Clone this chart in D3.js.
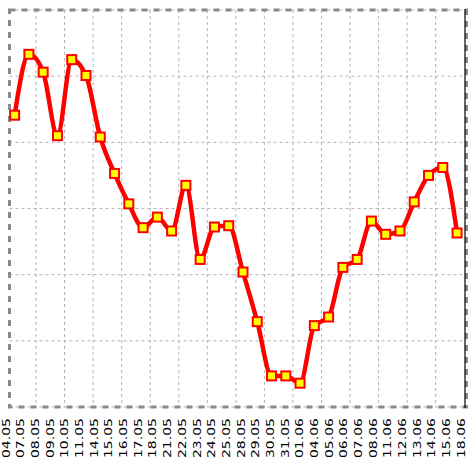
<!DOCTYPE html>
<html>
<head>
<meta charset="utf-8">
<script src="https://cdn.jsdelivr.net/npm/d3@7"></script>
<style>
  html, body { margin: 0; padding: 0; background: #fff; }
  svg { display: block; }
</style>
</head>
<body>
<script>
const categories = ["04.05","07.05","08.05","09.05","10.05","11.05","14.05","15.05","16.05","17.05","18.05","21.05","22.05","23.05","24.05","25.05","28.05","29.05","30.05","31.05","01.06","04.06","05.06","06.06","07.06","08.06","11.06","12.06","13.06","14.06","15.06","18.06"];
const values = [4.41,5.33,5.06,4.10,5.25,5.01,4.08,3.53,3.07,2.71,2.87,2.66,3.35,2.23,2.72,2.74,2.04,1.29,0.47,0.47,0.36,1.23,1.36,2.11,2.23,2.81,2.61,2.66,3.10,3.50,3.62,2.63];
const yTicks = [0,1,2,3,4,5,6];

(function () {
const W = 468, H = 462;
const svg = d3.select("body").append("svg").attr("width", W).attr("height", H);

const x = d3.scaleBand().domain(categories).range([7.5, 464.2]);
const y = d3.scaleLinear().domain([0, 6]).range([407, 10]);
const xLab = d3.scalePoint().domain(categories).range([9.7, 464.7]);

const pLeft = 9.5, pRight = 466.5, pTop = y(6), pBottom = y(0);

// grid
const grid = svg.append("g").attr("stroke", "#b4b4b4").attr("stroke-width", 1).attr("stroke-dasharray", "3,3").attr("fill", "none");
grid.selectAll("line.h").data(yTicks).join("line").attr("class", "h")
  .attr("x1", pLeft).attr("x2", pRight).attr("y1", d => y(d)).attr("y2", d => y(d));
const vIdx = d3.range(2, categories.length, 2);
grid.selectAll("line.v").data(vIdx).join("line").attr("class", "v")
  .attr("x1", i => x(categories[i])).attr("x2", i => x(categories[i]))
  .attr("y1", pTop).attr("y2", pBottom);

// frame
svg.append("rect").attr("x", pLeft).attr("y", pTop).attr("width", pRight - pLeft).attr("height", pBottom - pTop)
  .attr("fill", "none").attr("stroke", "#8a8a8a").attr("stroke-width", 3).attr("stroke-dasharray", "6,6");
svg.append("line").attr("x1", 465).attr("x2", 465).attr("y1", pTop - 1).attr("y2", pBottom + 1)
  .attr("stroke", "#000").attr("stroke-width", 1.2);

// line
const cx = d => x(d) + x.bandwidth() / 2;
const line = d3.line().x((d, i) => cx(categories[i])).y(d => y(d)).curve(d3.curveMonotoneX);
svg.append("path").datum(values).attr("d", line).attr("fill", "none")
  .attr("stroke", "#ff0000").attr("stroke-width", 4.5).attr("stroke-linejoin", "round");

// markers
svg.selectAll("rect.m").data(values).join("rect").attr("class", "m")
  .attr("x", (d, i) => cx(categories[i]) - 4.5).attr("y", d => y(d) - 4.5)
  .attr("width", 9).attr("height", 9)
  .attr("fill", "#ffff00").attr("stroke", "#ff0000").attr("stroke-width", 2);

// x labels
svg.selectAll("text.xl").data(categories).join("text").attr("class", "xl")
  .attr("transform", d => `translate(${xLab(d)},418) scale(0.72,1) rotate(-90)`)
  .attr("text-anchor", "end")
  .attr("font-family", "DejaVu Sans")
  .attr("font-size", 14)
  .attr("fill", "#000")
  .text(d => d);
})();
</script>
</body>
</html>
